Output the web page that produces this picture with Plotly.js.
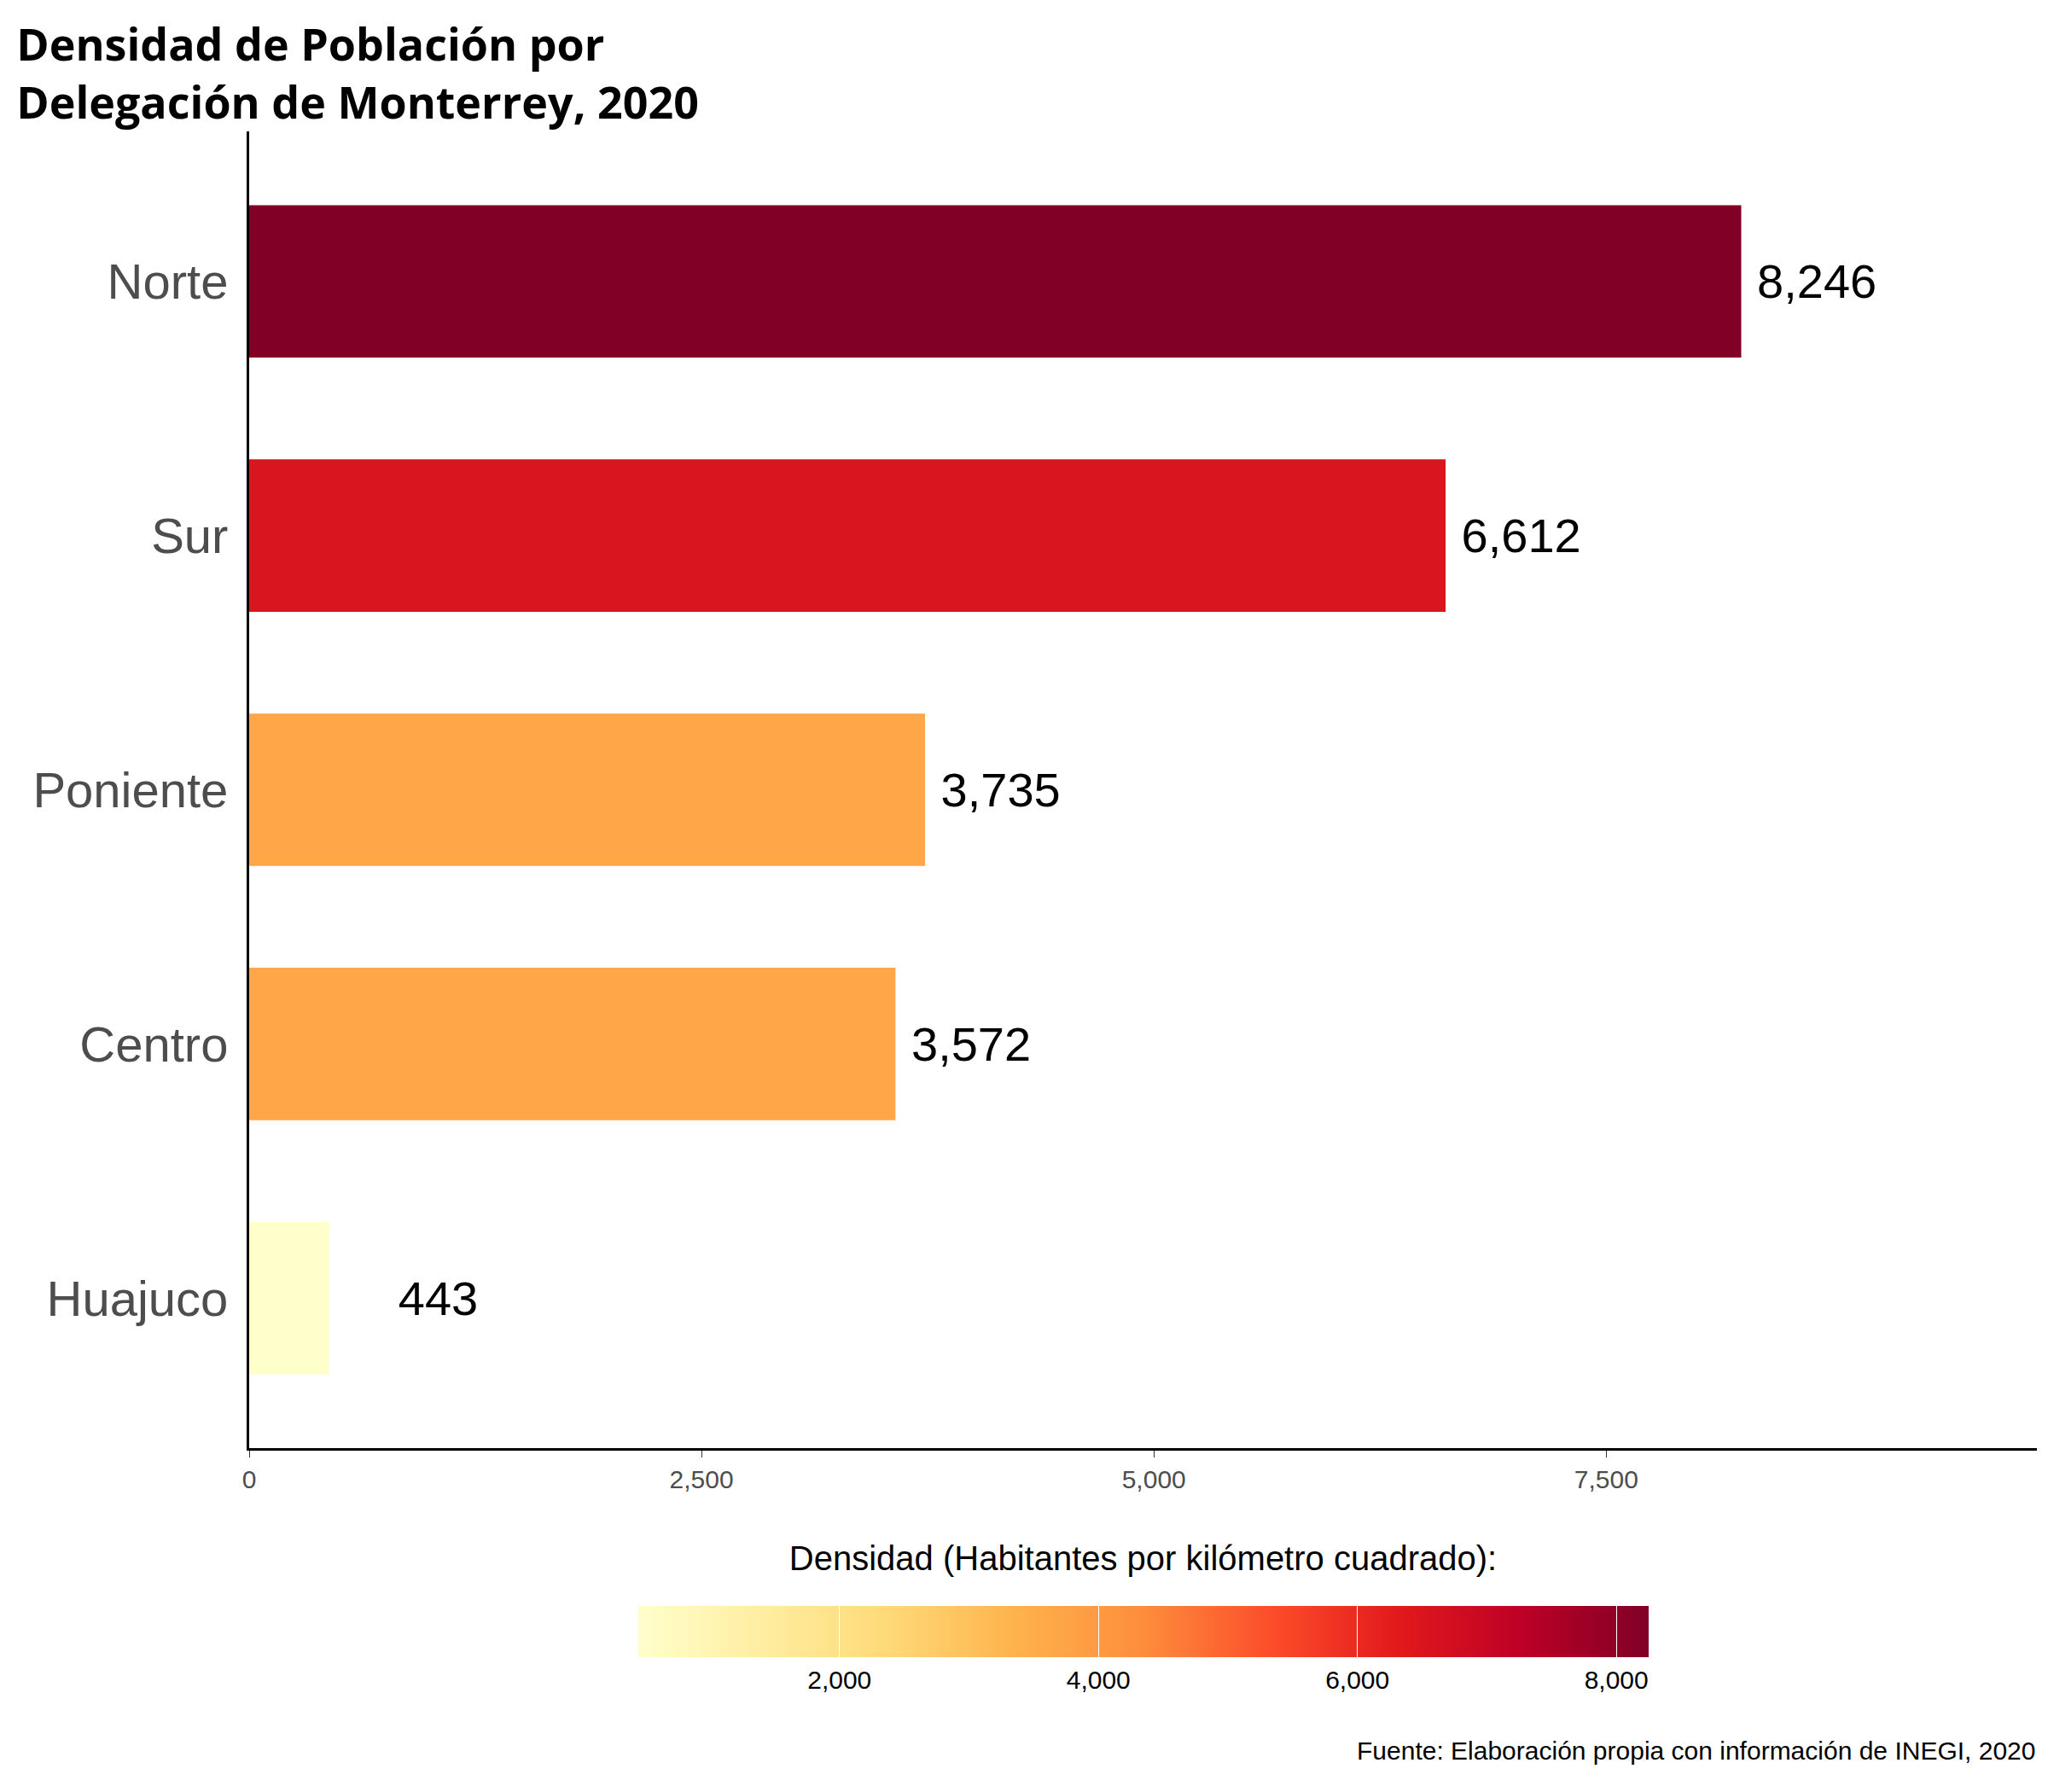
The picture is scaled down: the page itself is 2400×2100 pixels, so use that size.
<!DOCTYPE html>
<html><head><meta charset="utf-8">
<script src="https://cdn.plot.ly/plotly-3.0.1.min.js"></script>
<style>body{margin:0;background:#fff}</style>
</head><body>
<div id="chart" style="width:2400px;height:2100px"></div>
<script>
const delegaciones = ["Huajuco", "Centro", "Poniente", "Sur", "Norte"];
const densidad = [443, 3572, 3735, 6612, 8246];
const colores = ["#FFFFCC", "#FEA648", "#FEA648", "#D9161F", "#800026"];
const etiquetas = densidad.map((v, i) => (i === 0 ? "\u00a0\u00a0\u00a0\u00a0\u00a0" : "\u00a0") + v.toLocaleString("en-US"));

const bars = {
  type: "bar", orientation: "h",
  y: delegaciones, x: densidad,
  width: 0.6,
  marker: { color: colores },
  text: etiquetas, textposition: "outside", cliponaxis: false,
  textfont: { family: "Liberation Sans, Arial", size: 56, color: "#000" },
  hoverinfo: "x+y",
};

const scale = {
  type: "scatter", mode: "markers",
  x: [null], y: [null], showlegend: false, hoverinfo: "skip",
  marker: {
    color: densidad, cmin: 443, cmax: 8246,
    colorscale: "YlOrRd", reversescale: true, showscale: true,
    colorbar: {
      orientation: "h", x: 0.5, xanchor: "center", y: -0.232, yanchor: "bottom",
      lenmode: "pixels", len: 1204, thickness: 60, outlinewidth: 0,
      tickvals: [2000, 4000, 6000, 8000], ticktext: ["2,000", "4,000", "6,000", "8,000"],
      ticks: "inside", ticklen: 60, tickcolor: "#fff",
      tickfont: { family: "Liberation Sans, Arial", size: 30, color: "#000" },
      title: { text: "Densidad (Habitantes por kilómetro cuadrado):", side: "top",
        font: { family: "Liberation Sans, Arial", size: 40, color: "#000" } },
    },
  },
};

const layout = {
  width: 2400, height: 2100,
  margin: { l: 292, r: 13, t: 154, b: 403 },
  paper_bgcolor: "#fff", plot_bgcolor: "#fff",
  showlegend: false,
  title: { text: "<b>Densidad de Población por<br>Delegación de Monterrey, 2020</b>",
    x: 0.008, xanchor: "left", y: 0.966, yanchor: "top",
    font: { family: "Open Sans", size: 52, color: "#000" } },
  xaxis: {
    range: [0, 9880], tickvals: [0, 2500, 5000, 7500], ticktext: ["0", "2,500", "5,000", "7,500"],
    showgrid: false, zeroline: false, showline: true, linecolor: "#000", linewidth: 3,
    ticks: "outside", ticklen: 8, tickcolor: "#333",
    tickfont: { family: "Liberation Sans, Arial", size: 30, color: "#4d4d4d" },
  },
  yaxis: {
    range: [-0.59, 4.59], showgrid: false, zeroline: false,
    showline: true, linecolor: "#000", linewidth: 3, ticks: "", ticklabelstandoff: 10,
    tickfont: { family: "Liberation Sans, Arial", size: 58, color: "#4d4d4d" },
  },
  annotations: [{
    text: "Fuente: Elaboración propia con información de INEGI, 2020",
    xref: "paper", yref: "paper", x: 1, y: -0.218, xanchor: "right", yanchor: "top",
    showarrow: false, font: { family: "Liberation Sans, Arial", size: 30, color: "#000" },
  }],
};

Plotly.newPlot("chart", [bars, scale], layout, { displayModeBar: false });
</script>
</body></html>
